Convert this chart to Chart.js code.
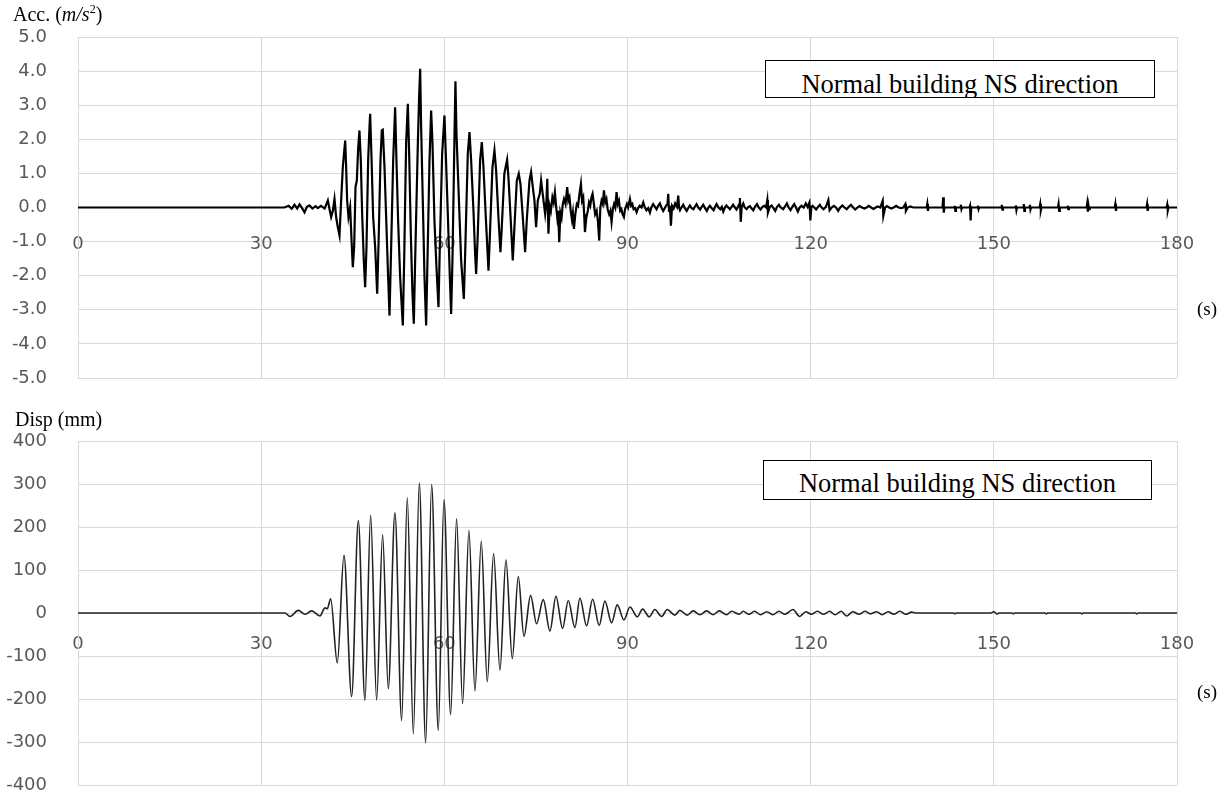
<!DOCTYPE html>
<html>
<head>
<meta charset="utf-8">
<script src="https://cdn.jsdelivr.net/npm/chart.js@4.4.0/dist/chart.umd.min.js"></script>
<style>
body { margin:0; background:#fff; width:1230px; height:798px; position:relative; overflow:hidden; }
canvas { position:absolute; left:0; }
.ttl { position:absolute; font-family:"Liberation Serif", serif; font-size:20px; line-height:20px; color:#000; white-space:nowrap; }
.note { position:absolute; border:1.5px solid #000; background:#fff; overflow:hidden; box-sizing:border-box; }
.note span { position:absolute; left:0; right:0; text-align:center; font-family:"Liberation Serif", serif; font-size:26.5px; line-height:29px; color:#000; white-space:nowrap; }
</style>
</head>
<body>
<canvas id="accChart" width="1230" height="395" style="top:0"></canvas>
<canvas id="dispChart" width="1230" height="403" style="top:395px"></canvas>

<div class="ttl" style="left:13px; top:4px;">Acc. (<i>m/s</i><sup style="font-size:12px; vertical-align:8px; line-height:0;">2</sup>)</div>
<div class="ttl" style="left:15px; top:409px;">Disp (mm)</div>
<div class="ttl" style="left:1197px; top:299px; font-size:19px;">(s)</div>
<div class="ttl" style="left:1197px; top:682px; font-size:19px;">(s)</div>
<div class="note" style="left:765px; top:60px; width:390px; height:38px;"><span style="top:9px;">Normal building NS direction</span></div>
<div class="note" style="left:763px; top:460px; width:389px; height:40px;"><span style="top:8px;">Normal building NS direction</span></div>

<script>
// tick labels
var timeTicks = [0, 30, 60, 90, 120, 150, 180];
var accTicks = [-5, -4, -3, -2, -1, 0, 1, 2, 3, 4, 5];
var dispTicks = [-400, -300, -200, -100, 0, 100, 200, 300, 400];

// acceleration (m/s2), [time s, value]
var accPoints = [
  [0,0],[33.8,0],[34.5,0.05],[35.0,-0.04],[35.46,0.08],[35.9,-0.03],[36.28,0.09],[36.7,-0.02],[37.1,-0.14],[37.5,0.02],
  [37.91,0.06],[38.4,-0.03],[38.9,0.04],[39.28,-0.02],[39.8,0.05],[40.4,-0.03],[40.92,0.21],[41.2,-0.05],[41.46,-0.28],[41.74,-0.1],
  [42.01,0.25],[42.28,-0.28],[42.55,-0.58],[42.83,-0.82],[43.10,0.21],[43.37,1.18],[43.76,1.96],[43.92,1.18],[44.08,0.21],[44.30,-0.28],
  [44.57,0.01],[44.85,-1.16],[45.01,-1.75],[45.23,-1.16],[45.45,0.60],[45.67,0.79],[45.88,1.72],[46.10,2.26],[46.32,1.38],[46.54,-0.19],
  [46.81,-1.55],[47.03,-2.34],[47.25,-1.16],[47.52,1.38],[47.74,2.36],[47.85,2.75],[48.07,1.48],[48.34,-0.28],[48.67,-1.16],[49.00,-2.53],
  [49.21,-1.16],[49.54,1.38],[49.76,2.26],[49.92,2.28],[50.20,1.18],[50.47,-0.28],[50.74,-1.75],[51.02,-3.17],[51.29,-1.16],[51.62,1.38],
  [51.94,2.94],[52.16,1.38],[52.43,-0.38],[52.76,-2.04],[53.20,-3.46],[53.42,-1.55],[53.74,1.87],[54.02,3.04],[54.24,1.57],[54.51,-0.77],
  [54.78,-2.53],[55.00,-3.41],[55.22,-1.55],[55.66,1.87],[55.87,3.24],[56.04,4.07],[56.20,2.36],[56.47,0.21],[56.75,-2.04],[57.02,-3.46],
  [57.24,-1.55],[57.57,1.38],[57.84,2.84],[58.06,1.87],[58.38,-0.38],[58.71,-1.75],[59.04,-2.92],[59.26,-1.16],[59.64,1.57],[60.02,2.70],
  [60.24,1.57],[60.57,-0.19],[60.90,-2.04],[61.11,-3.12],[61.33,-1.55],[61.66,2.06],[61.82,3.70],[61.99,2.16],[62.31,0.60],[62.75,-1.55],
  [63.19,-2.68],[63.41,-1.36],[63.84,1.57],[64.12,2.21],[64.39,1.38],[64.77,-0.09],[65.04,-1.36],[65.21,-1.95],[65.48,-0.77],[65.86,1.38],
  [66.14,1.92],[66.41,1.18],[66.79,-0.28],[67.23,-1.85],[67.45,-0.87],[67.88,1.18],[68.21,1.67],[68.48,1.09],[68.86,-0.28],[69.19,-1.31],
  [69.41,-0.58],[69.83,0.99],[70.28,1.40],[70.50,0.89],[70.88,-0.38],[71.21,-1.55],[71.48,-0.58],[71.87,0.79],[72.19,0.99],[72.47,0.69],
  [72.85,-0.28],[73.23,-1.31],[73.50,-0.38],[73.94,0.79],[74.21,1.04],[74.49,0.60],[74.76,0.21],[75.03,-0.58],[75.31,0.21],[75.63,0.40],
  [75.85,0.79],[76.18,0.30],[76.51,-0.19],[76.73,0.21],[76.86,0.84],[77.05,-0.77],[77.25,0.05],[77.45,-0.1],[77.7,0.3],[77.9,0.15],
  [78.11,0.45],[78.3,0.05],[78.5,-0.3],[78.65,-0.1],[78.82,-1.02],[79.0,-0.15],[79.2,-0.3],[79.4,0.1],[79.6,0.25],[79.85,0.1],
  [80.13,0.6],[80.3,0.2],[80.5,0.3],[80.7,-0.1],[80.9,-0.35],[81.05,-0.15],[81.23,-0.63],[81.45,-0.2],[81.7,0.1],[81.9,0.05],
  [82.1,0.35],[82.37,0.69],[82.55,0.2],[82.75,0.3],[82.9,-0.2],[83.03,-0.72],[83.25,-0.3],[83.5,-0.1],[83.7,0.15],[83.9,0.05],
  [84.1,0.3],[84.28,0.40],[84.5,0.1],[84.7,-0.2],[84.95,-0.1],[85.15,-0.4],[85.37,-0.97],[85.55,0.0],[85.75,0.2],[85.95,0.1],
  [86.14,0.50],[86.35,0.15],[86.55,0.25],[86.75,-0.05],[87.0,-0.2],[87.2,-0.1],[87.39,-0.43],[87.6,-0.05],[87.8,0.1],[88.0,0.0],
  [88.21,0.45],[88.4,0.1],[88.6,0.2],[88.8,-0.1],[89.0,-0.05],[89.2,-0.2],[89.41,-0.28],[89.6,-0.05],[89.9,0.1],[90.1,0.0],
  [90.40,0.25],[90.6,0.05],[90.8,0.1],[91.0,-0.05],[91.25,-0.02],[91.49,-0.14],[91.7,-0.03],[92.0,0.05],[92.3,0.0],[92.58,0.15],
  [92.8,0.02],[93.1,-0.08],[93.4,-0.02],[93.67,-0.15],[93.9,0.0],[94.2,0.1],[94.5,0.02],[94.76,-0.05],[95.0,0.04],[95.3,0.12],
  [95.55,0.0],[95.85,-0.1],[96.1,-0.02],[96.3,0.05],[96.55,0.1],[96.67,0.40],[96.8,-0.1],[96.95,0.05],[97.11,-0.53],[97.3,0.05],
  [97.55,-0.03],[97.8,0.12],[98.1,0.02],[98.31,0.35],[98.45,0.0],[98.6,-0.08],[98.9,0.02],[99.13,0.08],[99.4,-0.02],[99.7,-0.1],
  [100.0,0.0],[100.22,0.06],[100.5,-0.02],[100.8,-0.05],[101.05,0.03],[101.31,0.1],[101.6,0.0],[101.9,-0.06],[102.15,0.02],[102.41,0.08],
  [102.7,-0.02],[103.0,-0.1],[103.25,0.0],[103.5,0.05],[103.8,-0.02],[104.1,-0.08],[104.35,0.02],[104.59,0.1],[104.9,0.0],[105.2,-0.05],
  [105.45,0.02],[105.68,-0.12],[105.95,0.0],[106.2,0.06],[106.5,0.0],[106.77,-0.05],[107.05,0.02],[107.3,0.08],[107.6,0.0],[107.86,-0.06],
  [108.1,0.02],[108.3,0.1],[108.41,0.28],[108.55,-0.42],[108.7,0.02],[108.96,0.12],[109.2,0.0],[109.5,-0.05],[109.8,0.02],[110.05,0.04],
  [110.3,-0.02],[110.6,-0.08],[110.9,0.03],[111.2,0.1],[111.5,0.0],[111.8,-0.06],[112.1,0.02],[112.4,0.05],[112.7,0.0],[112.9,0.22],
  [113.0,-0.15],[113.3,0.02],[113.6,0.06],[113.9,-0.02],[114.2,-0.1],[114.5,0.02],[114.8,0.08],[115.1,0.0],[115.5,-0.05],[115.8,0.03],
  [116.1,0.12],[116.4,0.0],[116.7,-0.08],[117.0,0.02],[117.3,0.1],[117.6,0.0],[117.9,-0.12],[118.2,0.0],[118.5,0.05],[118.85,0.0],
  [119.2,0.12],[119.5,0.02],[119.8,0.15],[119.95,-0.38],[120.1,0.0],[120.3,0.05],[120.6,0.0],[120.9,-0.06],[121.2,0.02],[121.5,0.08],
  [121.8,0.0],[122.1,-0.05],[122.5,0.02],[122.9,0.22],[123.1,-0.08],[123.45,0.0],[123.8,0.05],[124.15,0.0],[124.5,-0.1],[124.85,0.0],
  [125.2,0.06],[125.55,0.0],[125.9,-0.05],[126.25,0.02],[126.6,0.08],[126.95,0.0],[127.3,-0.06],[127.65,0.0],[128.0,0.04],[128.4,0.0],
  [128.8,-0.03],[129.15,0.0],[129.5,0.05],[129.9,0.0],[130.3,-0.04],[130.65,0.0],[131.0,0.03],[131.4,0.0],[131.8,0.2],[131.9,-0.25],
  [132.2,0.0],[132.5,0.04],[132.85,0.0],[133.2,-0.03],[133.6,0.0],[134.0,0.05],[134.4,0.0],[134.8,-0.02],[135.15,0.0],[135.5,0.1],
  [135.6,-0.1],[135.9,0.0],[136.3,0.03],[136.8,0],[139.0,0],[139.1,0.1],[139.2,-0.1],[139.3,0],[141.6,0],[141.7,0.3],
  [141.8,-0.15],[141.9,0],[143.5,0],[143.6,0.05],[143.7,-0.1],[143.8,0],[144.5,0],[144.6,0.08],[144.7,-0.05],[144.8,0],
  [146.0,0],[146.1,0.05],[146.2,-0.38],[146.3,0],[147.3,0],[147.4,0.05],[147.5,-0.05],[147.6,0],[151.2,0],[151.3,0.08],
  [151.4,-0.06],[151.5,0],[153.5,0],[153.6,0.06],[153.7,-0.08],[153.8,0],[154.8,0],[154.9,0.1],[155.0,-0.1],[155.1,0],
  [155.8,0],[155.9,0.08],[156.0,-0.06],[156.1,0],[157.5,0],[157.6,0.1],[157.7,-0.08],[157.8,0],[160.5,0],[160.6,0.1],
  [160.7,-0.1],[160.8,0],[162.0,0],[162.1,0.05],[162.2,-0.05],[162.3,0],[165.2,0],[165.3,0.12],[165.4,-0.12],[165.5,0.06],
  [165.6,-0.05],[165.7,0],[169.8,0],[169.9,0.1],[170.0,-0.1],[170.1,0],[175.0,0],[175.1,0.1],[175.2,-0.1],[175.3,0],
  [178.3,0],[178.4,0.08],[178.5,-0.08],[178.6,0],[180,0]
];

// displacement (mm), [time s, value]
var dispPoints = [
  [0,0],[33.9,0],[34.72,-8],[36.09,6],[37.18,-3],[38.27,5],[39.63,-7],[40.45,12],[40.83,10],[41.38,33],
  [42.47,-116],[43.56,134],[44.82,-194],[45.91,215],[47.0,-203],[47.93,227],[48.91,-202],[49.89,182],[50.82,-176],[51.91,233],
  [53.01,-250],[53.93,268],[54.92,-281],[55.90,302],[56.94,-302],[57.92,299],[59.01,-273],[59.94,264],[61.03,-236],[62.01,219],
  [62.99,-211],[64.03,192],[65.01,-181],[66.05,167],[67.03,-160],[68.07,138],[69.11,-133],[70.09,124],[71.13,-106],[72.11,85],
  [73.04,-54],[74.13,41],[75.11,-25],[76.20,31],[77.30,-42],[78.28,39],[79.37,-36],[80.30,29],[81.39,-34],[82.21,35],
  [83.30,-30],[84.28,32],[85.37,-29],[86.30,28],[87.39,-23],[88.32,19],[89.41,-16],[90.40,14],[91.60,-9],[92.47,9],
  [93.56,-9],[94.49,8],[95.58,-8],[96.51,8],[97.76,-5],[98.58,6],[99.78,-5],[100.77,5],[101.86,-4],[102.95,5],
  [104.04,-4],[105.03,5],[106.23,-4],[107.05,4],[108.30,-3],[108.96,4],[109.9,-3],[110.8,4],[111.8,-4],[112.8,3],
  [113.8,-4],[114.8,4],[115.8,-3],[117.1,8],[118.2,-8],[119.2,3],[120.1,-3],[121.1,4],[122.1,-3],[123.1,4],
  [124.0,-4],[125.0,4],[125.9,-7],[126.9,3],[127.9,-3],[128.9,4],[129.8,-2],[130.8,3],[131.7,-4],[132.7,3],
  [133.6,-3],[134.6,4],[135.6,-3],[136.5,2],[137.2,0],[143.4,0],[143.6,-2],[143.8,0],[149.5,0],[150.0,3],
  [150.5,-2],[150.9,0],[153.0,0],[153.2,-2],[153.4,0],[158.4,0],[158.6,-2],[158.8,0],[164.2,0],[164.4,-2],
  [164.6,0],[173.2,0],[173.4,-2],[173.6,0],[180,0]
];

var gridColor = '#d9d9d9';
var tickColor = '#595959';
var tickFont = { family: 'DejaVu Sans', size: 18 };

function makePanel(id, points, yTicks, digits, smooth, lineWidth, lineColor, pad, xPad) {
    var ctx = document.getElementById(id).getContext('2d');
    return new Chart(ctx, {
        type: 'line',
        data: {
            datasets: [{
                data: points.map(p => ({ x: p[0], y: p[1] })),
                borderColor: lineColor,
                borderWidth: lineWidth,
                pointRadius: 0,
                fill: false,
                tension: 0,
                cubicInterpolationMode: smooth ? 'monotone' : 'default'
            }]
        },
        options: {
            responsive: false,
            animation: false,
            devicePixelRatio: 1,
            layout: { padding: pad },
            plugins: {
                legend: { display: false },
                tooltip: { enabled: false }
            },
            scales: {
                x: {
                    type: 'linear',
                    min: timeTicks[0],
                    max: timeTicks[timeTicks.length - 1],
                    position: { y: 0 },
                    afterFit: function (s) { s.height = 0; },
                    afterBuildTicks: function (s) { s.ticks = timeTicks.map(v => ({ value: v })); },
                    grid: { color: gridColor, lineWidth: 1, drawTicks: false },
                    border: { display: false },
                    ticks: {
                        padding: xPad,
                        color: tickColor,
                        maxRotation: 0,
                        autoSkip: false,
                        font: tickFont
                    }
                },
                y: {
                    type: 'linear',
                    min: yTicks[0],
                    max: yTicks[yTicks.length - 1],
                    afterFit: function (s) { s.width = 78; },
                    afterBuildTicks: function (s) { s.ticks = yTicks.map(v => ({ value: v })); },
                    // invisible tick marks push the labels left without adding vertical padding
                    grid: { color: gridColor, lineWidth: 1, drawTicks: true, tickLength: 31, tickColor: 'rgba(0,0,0,0)' },
                    border: { color: gridColor },
                    ticks: {
                        padding: 0,
                        color: tickColor,
                        font: tickFont,
                        callback: function (v) { return v.toFixed(digits); }
                    }
                }
            }
        }
    });
}

makePanel('accChart', accPoints, accTicks, 1, false, 2.2, '#000', { top: 37, right: 53, bottom: 17, left: 0 }, 26);
makePanel('dispChart', dispPoints, dispTicks, 0, true, 1.6, '#222', { top: 46, right: 53, bottom: 13, left: 0 }, 21);
</script>
</body>
</html>
